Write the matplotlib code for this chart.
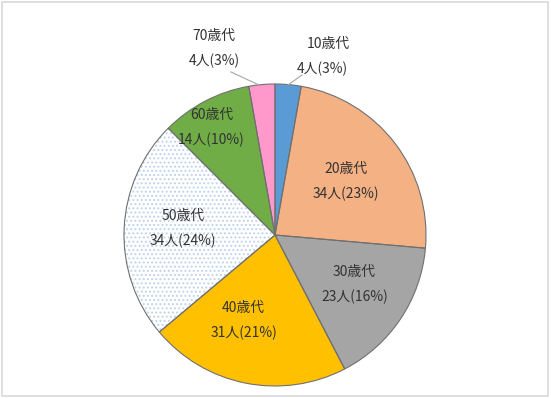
import numpy as np
import matplotlib
matplotlib.use("Agg")
from matplotlib import pyplot as plt
from matplotlib.patches import Rectangle

plt.rcParams['font.family'] = ['Noto Sans CJK JP', 'DejaVu Sans']
plt.rcParams['hatch.linewidth'] = 0.9

# donnees
ages = ['10歳代', '20歳代', '30歳代', '40歳代', '50歳代', '60歳代', '70歳代']
counts = [4, 34, 23, 31, 34, 14, 4]
pcts = [3, 23, 16, 21, 24, 10, 3]
colors = ['#5B9BD5', '#F4B183', '#A5A5A5', '#FFC000', '#FFFFFF', '#70AD47', '#FF99CC']

fig = plt.figure(figsize=(5.51, 3.98), dpi=100)
ax = fig.add_axes([0, 0, 1, 1])

cx, cy, R = 275, 163, 151

wedges, _ = ax.pie(counts, colors=colors, startangle=90, counterclock=False,
                   center=(cx, cy), radius=R, frame=True,
                   wedgeprops=dict(linewidth=0))
# 50歳代 : points bleus
wedges[4].set_hatch('....')
wedges[4].set_edgecolor('#BCD3EA')
# contours gris
ax.pie(counts, colors=['none'] * len(counts), startangle=90, counterclock=False,
       center=(cx, cy), radius=R, frame=True,
       wedgeprops=dict(linewidth=0.8, edgecolor='#707070', fill=False))
ax.set_xlim(0, 551)
ax.set_ylim(0, 398)
ax.set_aspect('equal')
ax.axis('off')

# etiquettes interieures (rayon relatif)
rads = [None, 0.59, 0.62, 0.60, 0.61, 0.83, None]
offs = [0, 0, -2, 9, 2, -3, 0]  # petit decalage angulaire
total = sum(counts)
start = 0.0
for i, c in enumerate(counts):
    frac = c / total * 360
    mid = start + frac / 2
    start += frac
    if rads[i] is None:
        continue
    a = np.radians(90 - mid - offs[i])
    x = cx + rads[i] * R * np.cos(a)
    y = cy + rads[i] * R * np.sin(a)
    ax.text(x, y + 12, ages[i], ha='center', va='center', fontsize=10, color='#333333')
    ax.text(x, y - 13, '%d人(%d%%)' % (c, pcts[i]), ha='center', va='center',
            fontsize=10, color='#333333')

# etiquettes exterieures avec lignes de rappel
outside = {0: (328, 354, (288, 313), (302, 323)), 6: (214, 362, (259, 313), (231, 326))}
for i, (lx, ly, p0, p1) in outside.items():
    ax.plot([p0[0], p1[0]], [p0[1], p1[1]], color='#A6A6A6', lw=0.8)
    ax.text(lx, ly, ages[i], ha='center', va='center', fontsize=10, color='#333333')
    ax.text(lx - 6 if i == 0 else lx, ly - 25, '%d人(%d%%)' % (counts[i], pcts[i]),
            ha='center', va='center', fontsize=10, color='#333333')

fig.patches.append(Rectangle((0.004, 0.006), 0.991, 0.988, transform=fig.transFigure,
                             fill=False, edgecolor='#D9D9D9', lw=1.2))

plt.savefig('out.png', dpi=100)
